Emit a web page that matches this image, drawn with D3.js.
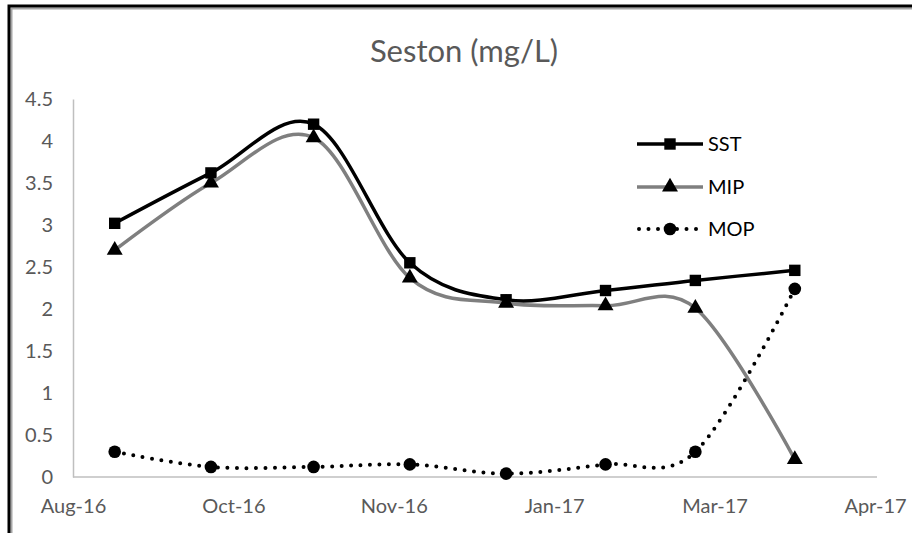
<!DOCTYPE html>
<html>
<head>
<meta charset="utf-8">
<script src="https://cdn.jsdelivr.net/npm/d3@7"></script>
<style>
  body { margin: 0; background: #fff; }
  text { font-family: Lato, "Open Sans", sans-serif; }
</style>
</head>
<body>
<div id="graphique"></div>
<script>
// donnees
var dates = ["2016-08-28", "2016-09-27", "2016-10-29", "2016-11-28", "2016-12-28", "2017-01-28", "2017-02-25", "2017-03-28"];
var sst = [3.02, 3.62, 4.20, 2.55, 2.11, 2.22, 2.34, 2.46];
var mip = [2.70, 3.50, 4.04, 2.37, 2.07, 2.04, 2.01, 0.21];
var mop = [0.30, 0.12, 0.12, 0.15, 0.04, 0.15, 0.30, 2.24];
var graduationsX = ["2016-08-15", "2016-10-04", "2016-11-23", "2017-01-12", "2017-03-03", "2017-04-22"];
var graduationsY = [0, 0.5, 1, 1.5, 2, 2.5, 3, 3.5, 4, 4.5];
var nomsSeries = ["SST", "MIP", "MOP"];

var largeur = 912, hauteur = 533;
var lireDate = d3.utcParse("%Y-%m-%d");
var formatDate = d3.utcFormat("%b-%y");

var svg = d3.select("#graphique").append("svg")
    .attr("width", largeur).attr("height", hauteur);

// cadre (seuls le haut et la gauche sont visibles)
svg.append("rect").attr("x", 11.5).attr("y", 8.5).attr("width", 1000).attr("height", 1000)
    .attr("fill", "none").attr("stroke", "#a6a6a6").attr("stroke-width", 2);
svg.append("rect").attr("x", 9).attr("y", 6).attr("width", 1000).attr("height", 1000)
    .attr("fill", "none").attr("stroke", "black").attr("stroke-width", 3);

var x = d3.scaleUtc()
    .domain([lireDate(graduationsX[0]), lireDate(graduationsX[graduationsX.length - 1])])
    .range([73, 875]);
var y = d3.scaleLinear().domain([0, 4.5]).range([477, 99]);

// titre
svg.append("text").attr("x", 464).attr("y", 62).attr("text-anchor", "middle")
    .attr("font-size", 31).attr("fill", "#595959").text("Seston (mg/L)");

// axes
var axeY = d3.axisLeft(y).tickValues(graduationsY).tickSize(0).tickPadding(20)
    .tickFormat(d3.format("~g"));
var gY = svg.append("g").attr("transform", "translate(73,0)").call(axeY);
gY.select(".domain").attr("stroke", "#bfbfbf").attr("stroke-width", 1.5);
gY.selectAll("text").attr("font-size", 20).attr("fill", "#595959")
    .attr("font-family", "Lato, sans-serif");

var axeX = d3.axisBottom(x).tickValues(graduationsX.map(lireDate)).tickSize(0).tickPadding(22)
    .tickFormat(formatDate);
var gX = svg.append("g").attr("transform", "translate(0,477)").call(axeX);
gX.select(".domain").attr("d", "M73,0H877").attr("stroke", "#bfbfbf").attr("stroke-width", 1.5);
gX.selectAll("text").attr("font-size", 20).attr("fill", "#595959")
    .attr("font-family", "Lato, sans-serif");

// series
var series = [
    {nom: nomsSeries[0], valeurs: sst, couleur: "black", forme: d3.symbolSquare, tirets: null, taille: 130, epais: 3.5},
    {nom: nomsSeries[1], valeurs: mip, couleur: "#7f7f7f", forme: d3.symbolTriangle, tirets: null, taille: 110, epais: 3.5},
    {nom: nomsSeries[2], valeurs: mop, couleur: "black", forme: d3.symbolCircle, tirets: "0,9.5", taille: 125, epais: 4}
];

var ligne = d3.line()
    .x(function(d) { return x(lireDate(d[0])); })
    .y(function(d) { return y(d[1]); })
    .curve(d3.curveCatmullRom.alpha(0));

series.forEach(function(s) {
    var points = dates.map(function(d, i) { return [d, s.valeurs[i]]; });
    svg.append("path").attr("d", ligne(points))
        .attr("fill", "none").attr("stroke", s.couleur).attr("stroke-width", s.epais)
        .attr("stroke-linecap", s.tirets ? "round" : "butt")
        .attr("stroke-dasharray", s.tirets);
    svg.selectAll(null).data(points).enter().append("path")
        .attr("d", d3.symbol().type(s.forme).size(s.taille))
        .attr("transform", function(d) { return "translate(" + x(lireDate(d[0])) + "," + y(d[1]) + ")"; })
        .attr("fill", "black");
});

// legende
var legendeY = [144, 187, 229];
series.forEach(function(s, i) {
    var g = svg.append("g").attr("transform", "translate(0," + legendeY[i] + ")");
    g.append("line").attr("x1", s.tirets ? 639 : 637).attr("x2", 703).attr("y1", 0).attr("y2", 0)
        .attr("stroke", s.couleur).attr("stroke-width", s.epais)
        .attr("stroke-linecap", s.tirets ? "round" : "butt")
        .attr("stroke-dasharray", s.tirets);
    g.append("path").attr("d", d3.symbol().type(s.forme).size(s.taille))
        .attr("transform", "translate(670,0)").attr("fill", "black");
    g.append("text").attr("x", 708).attr("y", 0).attr("dy", "0.35em")
        .attr("font-size", 20).attr("fill", "black").text(s.nom);
});
</script>
</body>
</html>
